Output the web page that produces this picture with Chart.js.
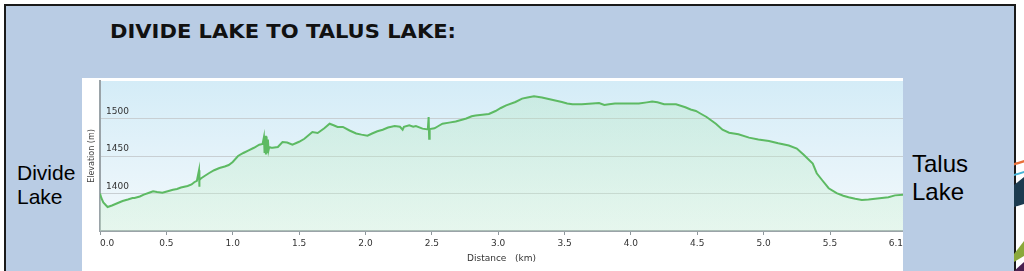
<!DOCTYPE html>
<html><head><meta charset="utf-8">
<script src="https://cdn.jsdelivr.net/npm/chart.js@4.4.1/dist/chart.umd.min.js"></script>
<style>
html,body{margin:0;padding:0;background:#fff;width:1024px;height:271px;overflow:hidden;position:relative;}
#slide{position:absolute;left:4px;top:4px;width:1008px;height:290px;background:#b9cce4;border:2px solid #1a1a1a;border-bottom:none;}
.t{position:absolute;white-space:nowrap;line-height:1;color:#000;}
#title{left:110px;top:20px;font:700 19px 'DejaVu Sans',sans-serif;color:#111;transform-origin:0 0;}
.lbl1{font:21px 'Liberation Sans',Arial,sans-serif;left:17px;}
.lbl2{font:24px 'Liberation Sans',Arial,sans-serif;left:912px;}
#chartBox{position:absolute;left:82px;top:78px;width:821px;height:193px;background:#fff;}
#sw{position:absolute;left:1014px;top:150px;}
</style></head>
<body>
<div id="slide"></div>
<div class="t" id="title">DIVIDE LAKE TO TALUS LAKE:</div>
<div class="t lbl1" style="top:161px">Divide</div>
<div class="t lbl1" style="top:185px">Lake</div>
<div class="t lbl2" style="top:150px">Talus</div>
<div class="t lbl2" style="top:178px">Lake</div>
<svg id="sw" width="10" height="121" viewBox="0 0 10 121">
  <polygon points="0,13 10,10 10,12.5 0,15.5" fill="#e8703a"/>
  <polygon points="0,24 10,21 10,23 0,26" fill="#45b3d6"/>
  <polygon points="0,35 10,27 10,54 0,57" fill="#1c3b50"/>
  <polygon points="0,104 10,91 10,106 0,112" fill="#8aa83a"/>
  <polygon points="0,121 10,112 10,121" fill="#4a2050"/>
</svg>
<div id="chartBox"><canvas id="c" width="821" height="193"></canvas></div>
<script>
const distanceKm = [0.000,0.010,0.025,0.057,0.090,0.13,0.17,0.21,0.245,0.26,0.30,0.33,0.37,0.40,0.43,0.47,0.51,0.55,0.58,0.61,0.66,0.69,0.71,0.73,0.746,0.748,0.750,0.76,0.785,0.82,0.86,0.90,0.94,0.97,1.00,1.04,1.08,1.12,1.16,1.20,1.225,1.235,1.24,1.245,1.25,1.255,1.26,1.265,1.27,1.275,1.29,1.30,1.34,1.375,1.41,1.45,1.50,1.54,1.60,1.64,1.69,1.73,1.76,1.79,1.83,1.88,1.93,1.97,2.015,2.05,2.09,2.13,2.17,2.22,2.26,2.28,2.29,2.33,2.36,2.38,2.43,2.47,2.476,2.480,2.484,2.52,2.55,2.58,2.63,2.68,2.72,2.76,2.80,2.83,2.88,2.93,2.98,3.02,3.06,3.13,3.18,3.22,3.27,3.33,3.38,3.43,3.48,3.52,3.56,3.63,3.71,3.76,3.80,3.835,3.88,3.935,4.00,4.06,4.12,4.16,4.20,4.25,4.34,4.41,4.45,4.49,4.52,4.57,4.64,4.69,4.74,4.81,4.89,4.96,5.04,5.11,5.19,5.25,5.30,5.37,5.40,5.44,5.49,5.55,5.60,5.64,5.69,5.74,5.79,5.84,5.89,5.94,5.99,6.05];
const elevationM = [1400,1394,1388,1382,1384,1387,1390,1392,1394,1394,1396,1398.5,1401,1403,1402,1401,1403,1405,1406,1408,1410,1412,1415,1417,1431,1409,1418,1420,1423,1427,1431,1434,1436,1438,1442,1450,1454,1457.6,1461,1465,1466,1475,1454,1477,1452,1476,1455,1472,1458,1462,1461,1461,1462,1468.7,1468,1465,1469,1473,1482,1480.7,1487,1493,1491,1488.7,1488.7,1484,1480,1478.5,1477,1480,1483,1485,1488,1490,1489,1485,1489,1491,1489,1490,1486.5,1485.5,1502,1473,1486,1487,1490,1493,1494.5,1496,1498,1500,1503,1504,1505,1506,1510,1514,1517.6,1522,1526.5,1528,1529.6,1528,1526,1524,1522,1520,1519,1519,1520,1520.7,1518,1519,1520,1520,1520,1520,1521.5,1522.5,1521.6,1519,1519,1515,1512,1510,1507,1502,1493,1485,1481,1479,1474.5,1472,1470,1467,1464,1460,1452,1440,1427,1418,1407,1400.5,1397,1395,1393,1391.5,1392,1393,1394,1395,1397.5,1398.5];
const xTickValues = [0,0.5,1.0,1.5,2.0,2.5,3.0,3.5,4.0,4.5,5.0,5.5,6.05];
const xTickLabels = ['0.0','0.5','1.0','1.5','2.0','2.5','3.0','3.5','4.0','4.5','5.0','5.5','6.1'];
const yTickValues = [1400,1450,1500];
const yTickLabels = ['1400','1450','1500'];
const xTitle = 'Distance   (km)';
const yTitle = 'Elevation (m)';

// fit slide title to its width in the reference
const tEl = document.getElementById('title');
const tw = tEl.getBoundingClientRect().width;
tEl.style.transform = 'scaleX(' + (346 / tw) + ')';

const points = distanceKm.map((d,i)=>({x:d,y:elevationM[i]}));

const plotBg = {
  id:'plotBg',
  beforeDraw(chart){
    const {ctx, chartArea:{left,top,right,bottom}} = chart;
    const g = ctx.createLinearGradient(0,top,0,bottom);
    g.addColorStop(0,'#d4ecf7');
    g.addColorStop(1,'#f3f9fc');
    ctx.save(); ctx.fillStyle=g; ctx.fillRect(left,top,right-left,bottom-top); ctx.restore();
  }
};

new Chart(document.getElementById('c'),{
  type:'line',
  data:{datasets:[{
    data:points,
    borderColor:'#5dba63',
    borderWidth:2,
    pointRadius:0,
    tension:0,
    fill:'start',
    backgroundColor:(ctx)=>{
      const ca = ctx.chart.chartArea;
      if(!ca) return 'rgba(170,230,180,0.3)';
      const g = ctx.chart.ctx.createLinearGradient(0,ca.top,0,ca.bottom);
      g.addColorStop(0,'rgba(170,228,180,0.3)');
      g.addColorStop(1,'rgba(205,242,210,0.35)');
      return g;
    }
  }]},
  options:{
    responsive:false, animation:false, devicePixelRatio:1,
    layout:{padding:{top:3,left:0,right:0,bottom:0}},
    plugins:{legend:{display:false},tooltip:{enabled:false}},
    scales:{
      x:{type:'linear',min:0,max:6.05,
        afterBuildTicks:a=>{a.ticks=xTickValues.map(v=>({value:v}));},
        afterFit:a=>{a.height=40;a.paddingLeft=0;a.paddingRight=0;},
        ticks:{autoSkip:false,maxRotation:0,minRotation:0,align:'inner',padding:3,color:'#333',
          font:{family:'DejaVu Sans',size:9},callback:(v,i)=>xTickLabels[i]},
        grid:{drawOnChartArea:false,drawTicks:true,tickLength:4,color:'#8e979c'},
        border:{display:true,color:'#9aa3a8',width:2},
        title:{display:true,text:xTitle,color:'#333',font:{family:'DejaVu Sans',size:9},padding:{top:0,bottom:7}}
      },
      y:{min:1350,max:1550,
        afterBuildTicks:a=>{a.ticks=yTickValues.map(v=>({value:v}));},
        afterFit:a=>{a.width=18;a.paddingTop=0;a.paddingBottom=0;},
        ticks:{mirror:true,padding:6,labelOffset:-7,color:'#333',
          font:{family:'DejaVu Sans',size:9},callback:(v,i)=>yTickLabels[i]},
        grid:{color:'#c8cfd3',drawTicks:false,lineWidth:1},
        border:{display:true,color:'#9aa3a8',width:2},
        title:{display:true,text:yTitle,color:'#444',font:{family:'DejaVu Sans',size:8},padding:{top:5,bottom:0}}
      }
    }
  },
  plugins:[plotBg]
});
</script>
</body></html>
